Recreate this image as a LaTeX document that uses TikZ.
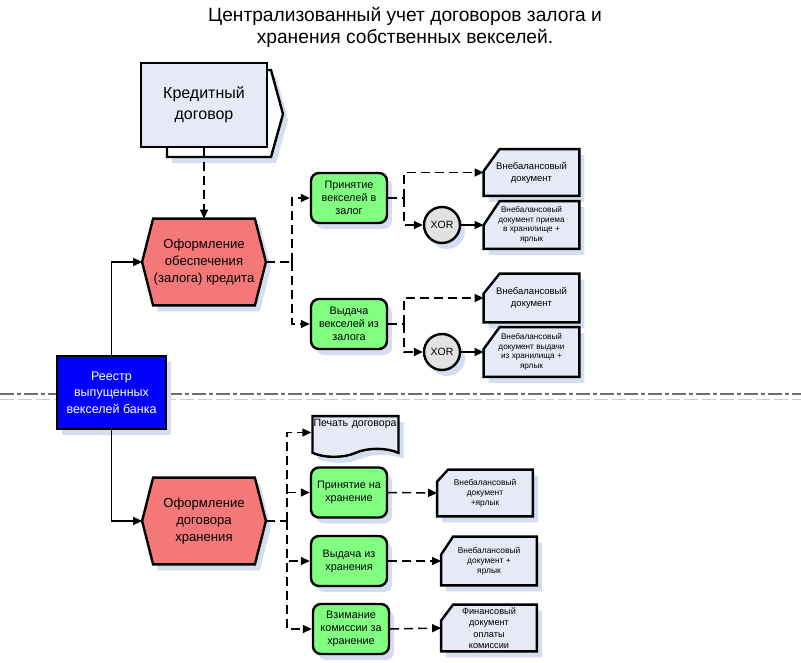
\documentclass[tikz,border=0pt]{standalone}
\usepackage{fontspec}
\setmainfont{Liberation Sans}
\usetikzlibrary{positioning, arrows.meta, shadows, backgrounds, shapes.symbols}

\definecolor{docfill}{RGB}{230,234,246}
\definecolor{funcgreen}{RGB}{128,255,128}
\definecolor{hexred}{RGB}{245,120,120}
\definecolor{xorgray}{RGB}{226,226,226}
\definecolor{shadowblue}{RGB}{212,222,240}
\definecolor{sepgray}{RGB}{110,110,110}

\begin{document}
\begin{tikzpicture}[x=1pt, y=-1pt, thick]
                \tikzstyle{outl} = [draw, line width=2.4pt]
                \tikzstyle{shdw} = [drop shadow={shadow xshift=5pt, shadow yshift=-6pt, fill=shadowblue, opacity=1}]
                \tikzstyle{func} = [outl, shdw, fill=funcgreen, rounded corners=8pt, minimum width=76pt, minimum height=50pt, inner sep=1pt, align=center, font=\fontsize{10.8}{13}\selectfont]
                \tikzstyle{event} = [minimum width=123pt, minimum height=86pt, inner sep=0pt, align=center, font=\fontsize{13.1}{17}\selectfont]
                \tikzstyle{docu} = [minimum width=95pt, minimum height=46pt, inner sep=1pt, align=center]
                \tikzstyle{xorgate} = [circle, outl, shdw, fill=xorgray, minimum size=36pt, inner sep=0pt, font=\fontsize{10.5}{12}\selectfont]
                \tikzstyle{line} = [line width=1.5pt]
                \tikzstyle{flow} = [line width=1.5pt, dash pattern=on 9pt off 5pt]
                \tikzstyle{arr} = [-{Triangle[length=9pt, width=8pt]}]

                \useasboundingbox (0,0) rectangle (801,662);

                % Title
                \node (title) at (405,27) [align=center, font=\fontsize{19.2}{22}\selectfont] {Централизованный учет договоров залога и\\хранения собственных векселей.};

                % Separator between the two parts
                \draw[sepgray!35, line width=1pt, dash pattern=on 14pt off 4pt] (0,399) -- (801,399);
                \draw[sepgray, line width=1.5pt, dash pattern=on 14pt off 3pt on 4pt off 3pt] (0,394) -- (801,394);

                % Credit contract (with the sheet behind it)
                \draw[outl, shdw, fill=white] (167,157) -- (271,157) -- (283,114) -- (271,70) -- (167,70) -- cycle;
                \node[outl, fill=docfill, minimum width=126pt, minimum height=84pt, align=center, font=\fontsize{16}{21}\selectfont] (kd) at (204,105) {Кредитный\\договор};

                % Events (hexagons, outline drawn below)
                \node[event] (hex1) at (204,262) {Оформление\\обеспечения\\(залога) кредита};
                \node[event] (hex2) at (204,521) {Оформление\\договора\\хранения};

                % Register of issued bills
                \node[outl, shdw, fill=blue, text=white, minimum width=109pt, minimum height=73pt, align=center, font=\fontsize{12.5}{16.5}\selectfont] (reestr) at (111.5,392.5) {Реестр\\выпущенных\\векселей банка};

                % Functions (green)
                \node[func] (p1) at (349,198) {Принятие\\векселей в\\залог};
                \node[func] (p2) at (349,324) {Выдача\\векселей из\\залога};
                \node[func] (p3) at (349,492.5) {Принятие на\\хранение};
                \node[func] (p4) at (349,561) {Выдача из\\хранения};
                \node[func] (p5) at (351,629) {Взимание\\комиссии за\\хранение};

                % XOR operators
                \node[xorgate] (x1) at (442,225) {XOR};
                \node[xorgate] (x2) at (442,352) {XOR};

                % Documents (outline drawn below)
                \node[docu, font=\fontsize{9.5}{12}\selectfont] (d1) at (531.5,172.5) {Внебалансовый\\документ};
                \node[docu, minimum height=47pt, font=\fontsize{8.2}{9.5}\selectfont] (d2) at (531.5,225) {Внебалансовый\\документ приема\\в хранилище +\\ярлык};
                \node[docu, minimum height=48pt, font=\fontsize{9.5}{12}\selectfont] (d3) at (531.5,298) {Внебалансовый\\документ};
                \node[docu, minimum height=49pt, font=\fontsize{8.2}{9.5}\selectfont] (d4) at (531.5,352) {Внебалансовый\\документ выдачи\\из хранилища +\\ярлык};
                \node[docu, font=\fontsize{8.4}{10}\selectfont] (d5) at (485,493) {Внебалансовый\\документ\\+ярлык};
                \node[docu, minimum height=48pt, font=\fontsize{8.4}{10}\selectfont] (d6) at (489,561) {Внебалансовый\\документ +\\ярлык};
                \node[docu, font=\fontsize{9.2}{11.5}\selectfont] (d7) at (489,628) {Финансовый\\документ\\оплаты\\комиссии};

                % Contract print-out
                \node[tape, tape bend top=none, tape bend height=8pt, outl, shdw, fill=docfill, minimum width=85pt, minimum height=38pt, inner xsep=1pt, text width=84pt, align=left, text height=7pt, text depth=19pt, font=\fontsize{10.6}{12}\selectfont] (print) at (355.5,432.5) {Печать договора};

                % Junction points
                \coordinate (j1) at (292,262);
                \coordinate (j2) at (287,521);
                \coordinate (k1) at (404,198);
                \coordinate (k2) at (404,324);

                % Shapes of events and documents
                \begin{scope}[on background layer]
                \foreach \h in {hex1, hex2}
                    \draw[outl, shdw, fill=hexred] (\h.west) -- ([xshift=11pt]\h.north west) -- ([xshift=-11pt]\h.north east) -- (\h.east) -- ([xshift=-11pt]\h.south east) -- ([xshift=11pt]\h.south west) -- cycle;
                \foreach \d/\cx/\cy in {d1/16pt/22pt, d2/16pt/24pt, d3/16pt/20pt, d4/16pt/22pt, d5/11pt/12pt, d6/12pt/18pt, d7/12pt/16pt}
                    \draw[outl, shdw, fill=docfill] (\d.south west) -- ([yshift=-\cy]\d.north west) -- ([xshift=\cx]\d.north west) -- (\d.north east) -- (\d.south east) -- cycle;
                \end{scope}

                % Connectors
                \draw[flow, arr] (kd.south) -- (hex1.north);
                \draw[line, arr] (reestr.north) |- (hex1.west);
                \draw[line, arr] (reestr.south) |- (hex2.west);

                \draw[flow] (hex1.east) -- (j1);
                \draw[flow, arr] (j1) |- (p1.west);
                \draw[flow, arr] (j1) |- (p2.west);

                \draw[flow] (p1.east) -- (k1);
                \draw[flow, arr] (k1) |- (d1.west);
                \draw[flow, arr] (k1) |- (x1.west);
                \draw[line, arr] (x1.east) -- (d2.west);

                \draw[flow] (p2.east) -- (k2);
                \draw[flow, arr] (k2) |- (d3.west);
                \draw[flow, arr] (k2) |- (x2.west);
                \draw[line, arr] (x2.east) -- (d4.west);

                \draw[flow] (hex2.east) -- (j2);
                \draw[flow, arr] (j2) |- (print.west);
                \draw[flow, arr] (j2) |- (p3.west);
                \draw[flow, arr] (j2) |- (p4.west);
                \draw[flow, arr] (j2) |- (p5.west);

                \draw[flow, arr] (p3.east) -- (d5.west);
                \draw[flow, arr] (p4.east) -- (d6.west);
                \draw[flow, arr] (p5.east) -- (d7.west);
\end{tikzpicture}
\end{document}
